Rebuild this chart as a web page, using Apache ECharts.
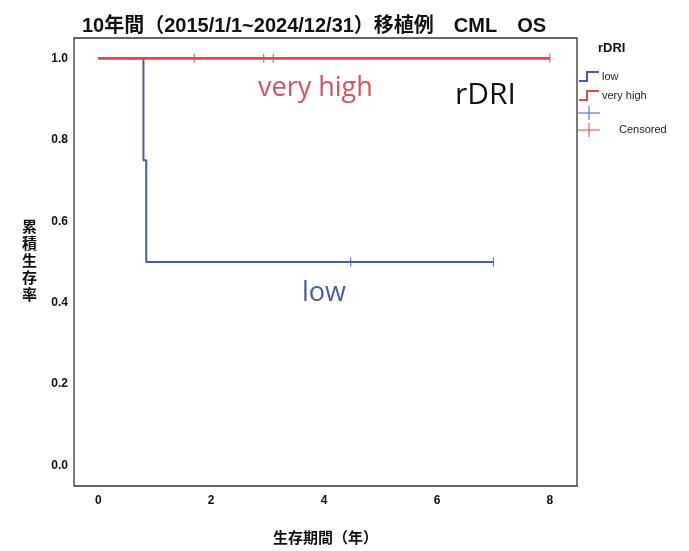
<!DOCTYPE html>
<html><head><meta charset="utf-8">
<script src="https://cdn.jsdelivr.net/npm/echarts@6/dist/echarts.min.js"></script>
<style>html,body{margin:0;padding:0;background:#fff}#c{width:689px;height:551px}</style>
</head><body><div id="c"></div>
<script>
const titleText = '10年間（2015/1/1~2024/12/31）移植例　CML　OS';
const seriesNames = ['low', 'very high'];
const lowTimes = [0, 0.80, 0.85, 7.0];
const lowSurv = [1.0, 0.75, 0.5, 0.5];
const vhTimes = [0, 8.0];
const vhSurv = [1.0, 1.0];
const lowCensorTimes = [4.47, 7.0];
const lowCensorSurv = [0.5, 0.5];
const vhCensorTimes = [1.7, 2.93, 3.1, 8.0];
const vhCensorSurv = [1.0, 1.0, 1.0, 1.0];
const xTicks = [0, 2, 4, 6, 8];
const yTicks = [0.0, 0.2, 0.4, 0.6, 0.8, 1.0];

const BLUE = '#4a5ca6';
const RED = '#e0474f';
const FONT = '"Liberation Sans", Arial, "Noto Sans CJK JP", sans-serif';
const zip = (a, b) => a.map((v, i) => [v, b[i]]);
const stepIcon = 'path://M0,10 L8,10 L8,1 L20,1';

const chart = echarts.init(document.getElementById('c'), null, {renderer: 'canvas'});
chart.setOption({
  animation: false,
  backgroundColor: '#fff',
  title: {
    text: titleText, left: 77, top: 11,
    textStyle: {fontSize: 20, fontWeight: 'bold', color: '#111', fontFamily: FONT}
  },
  grid: {left: 74, right: 112, top: 38, bottom: 60, show: true, borderColor: '#333', borderWidth: 1.3, backgroundColor: 'transparent'},
  xAxis: {
    type: 'value', min: -0.43, max: 8.48,
    name: '生存期間（年）', nameLocation: 'middle', nameGap: 45,
    nameTextStyle: {fontSize: 15, fontWeight: 'bold', color: '#111', fontFamily: FONT},
    axisLine: {show: false}, axisTick: {show: false}, splitLine: {show: false},
    axisLabel: {customValues: xTicks, margin: 9, fontSize: 12, fontWeight: 'bold', color: '#111', fontFamily: FONT, formatter: v => String(v)}
  },
  yAxis: {
    type: 'value', min: -0.05, max: 1.05,
    name: '累\n積\n生\n存\n率', nameLocation: 'middle', nameGap: 37, nameRotate: 0,
    nameTextStyle: {fontSize: 15, fontWeight: 'bold', color: '#111', lineHeight: 17, fontFamily: FONT},
    axisLine: {show: false}, axisTick: {show: false}, splitLine: {show: false},
    axisLabel: {customValues: yTicks, margin: 6, fontSize: 12, fontWeight: 'bold', color: '#111', fontFamily: FONT, formatter: v => v.toFixed(1)}
  },
  legend: {
    orient: 'vertical', left: 578, top: 71, itemWidth: 22, itemHeight: 9, itemGap: 8, padding: 0,
    textStyle: {fontSize: 11, color: '#222', fontFamily: FONT, padding: [0, 0, 0, -3]},
    data: [
      {name: seriesNames[0], icon: stepIcon, itemStyle: {color: 'transparent', borderColor: BLUE, borderWidth: 2}},
      {name: seriesNames[1], icon: stepIcon, itemStyle: {color: 'transparent', borderColor: RED, borderWidth: 2}}
    ]
  },
  graphic: [
    {type: 'text', left: 598, top: 42, style: {text: 'rDRI', font: 'bold 13px ' + FONT, fill: '#111'}},
    {type: 'line', shape: {x1: 578, y1: 113, x2: 600, y2: 113}, style: {stroke: BLUE, lineWidth: 1}},
    {type: 'line', shape: {x1: 589, y1: 106, x2: 589, y2: 120}, style: {stroke: BLUE, lineWidth: 1}},
    {type: 'line', shape: {x1: 578, y1: 130, x2: 600, y2: 130}, style: {stroke: RED, lineWidth: 1}},
    {type: 'line', shape: {x1: 589, y1: 123, x2: 589, y2: 137}, style: {stroke: RED, lineWidth: 1}},
    {type: 'text', left: 619, top: 124, style: {text: 'Censored', font: '11px ' + FONT, fill: '#222'}},
    {type: 'text', left: 258, top: 75, style: {text: 'very high', font: '27px "Open Sans", sans-serif', fill: '#d9535c'}},
    {type: 'text', left: 455, top: 80, style: {text: 'rDRI', font: '30px "Open Sans", sans-serif', fill: '#111'}},
    {type: 'text', left: 302, top: 280, style: {text: 'low', font: '27px "Open Sans", sans-serif', fill: BLUE}}
  ],
  series: [
    {name: seriesNames[0], type: 'line', step: 'end', data: zip(lowTimes, lowSurv), showSymbol: false, symbol: 'none', lineStyle: {color: BLUE, width: 2}, itemStyle: {color: BLUE}, z: 2},
    {name: seriesNames[1], type: 'line', step: 'end', data: zip(vhTimes, vhSurv), showSymbol: false, symbol: 'none', lineStyle: {color: RED, width: 2.6}, itemStyle: {color: RED}, z: 3},
    {name: 'low censored', type: 'scatter', data: zip(lowCensorTimes, lowCensorSurv), symbol: 'rect', symbolSize: [1.2, 9], itemStyle: {color: BLUE}, z: 4},
    {name: 'very high censored', type: 'scatter', data: zip(vhCensorTimes, vhCensorSurv), symbol: 'rect', symbolSize: [1.2, 9], itemStyle: {color: RED}, z: 4}
  ]
});
</script></body></html>
